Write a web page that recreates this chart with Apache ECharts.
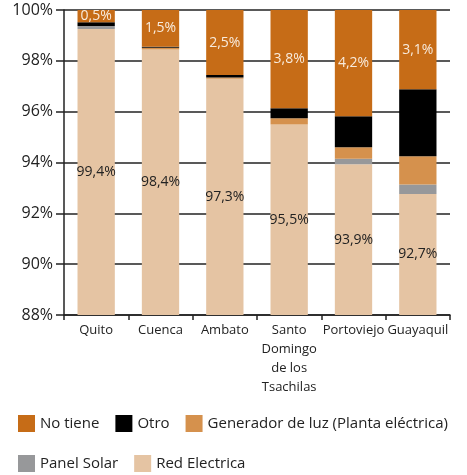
<!DOCTYPE html>
<html>
<head>
<meta charset="utf-8">
<script src="https://cdn.jsdelivr.net/npm/echarts@6/dist/echarts.min.js"></script>
<style>
html, body { margin: 0; padding: 0; background: #fff; }
#chart { width: 467px; height: 475px; }
</style>
</head>
<body>
<div id="chart"></div>
<script>
// datos (porcentaje de hogares por fuente de energia)
var ciudades = ['Quito', 'Cuenca', 'Ambato', 'Santo\nDomingo\nde los\nTsachilas', 'Portoviejo', 'Guayaquil'];
var redElectrica = [99.25, 98.45, 97.3, 95.5, 93.93, 92.76];
var panelSolar = [0.12, 0, 0, 0, 0.22, 0.37];
var generador = [0, 0.06, 0.04, 0.24, 0.45, 1.12];
var otro = [0.15, 0.04, 0.1, 0.39, 1.22, 2.63];
var noTiene = [0.48, 1.45, 2.56, 3.87, 4.18, 3.13];
// etiquetas tal como aparecen en el grafico
var etiquetasRed = ['99,4%', '98,4%', '97,3%', '95,5%', '93,9%', '92,7%'];
var etiquetasNoTiene = ['0,5%', '1,5%', '2,5%', '3,8%', '4,2%', '3,1%'];
var ticksY = [88, 90, 92, 94, 96, 98, 100];

var chart = echarts.init(document.getElementById('chart'));
var fuente = 'Open Sans';

function serie(nombre, datos, color, etiquetas, colorTexto) {
    var s = {
        name: nombre,
        type: 'bar',
        stack: 'total',
        barWidth: '58%',
        data: datos,
        itemStyle: { color: color },
        label: { show: false }
    };
    if (etiquetas) {
        s.label = {
            show: true,
            position: 'inside',
            fontFamily: fuente,
            fontSize: 14,
            color: colorTexto,
            formatter: function (p) { return etiquetas[p.dataIndex]; }
        };
    }
    return s;
}

var leyenda = {
    itemWidth: 17, itemHeight: 17, itemGap: 16, itemTextGap: 4,
    icon: 'rect',
    textStyle: { fontFamily: fuente, fontSize: 15, color: '#222' }
};

var option = {
    animation: false,
    textStyle: { fontFamily: fuente },
    grid: { left: 64, right: 17, top: 10, bottom: 160 },
    legend: [
        Object.assign({ data: ['No tiene', 'Otro', 'Generador de luz (Planta eléctrica)'], left: 13, top: 410 }, leyenda),
        Object.assign({ data: ['Panel Solar', 'Red Electrica'], left: 13, top: 450 }, leyenda)
    ],
    xAxis: {
        type: 'category',
        data: ciudades,
        axisLine: { lineStyle: { color: '#222', width: 1.5 } },
        axisTick: { show: true, length: 5, lineStyle: { color: '#222', width: 1.5 } },
        axisLabel: { interval: 0, margin: 6, fontSize: 13, lineHeight: 19, color: '#222', fontFamily: fuente }
    },
    yAxis: {
        type: 'value',
        min: ticksY[0],
        max: ticksY[ticksY.length - 1],
        interval: 2,
        axisLine: { show: true, lineStyle: { color: '#222', width: 1.5 } },
        axisTick: { show: true, length: 8, lineStyle: { color: '#222', width: 1.5 } },
        axisLabel: { formatter: '{value}%', margin: 11, fontSize: 16, color: '#222', fontFamily: fuente },
        splitLine: { lineStyle: { color: '#222', width: 1.5 } }
    },
    series: [
        serie('Red Electrica', redElectrica, '#E5C4A3', etiquetasRed, '#222'),
        serie('Panel Solar', panelSolar, '#97989A'),
        serie('Generador de luz (Planta eléctrica)', generador, '#D5914D'),
        serie('Otro', otro, '#000000'),
        serie('No tiene', noTiene, '#C66C17', etiquetasNoTiene, '#F8EBDD')
    ]
};
chart.setOption(option);
</script>
</body>
</html>
